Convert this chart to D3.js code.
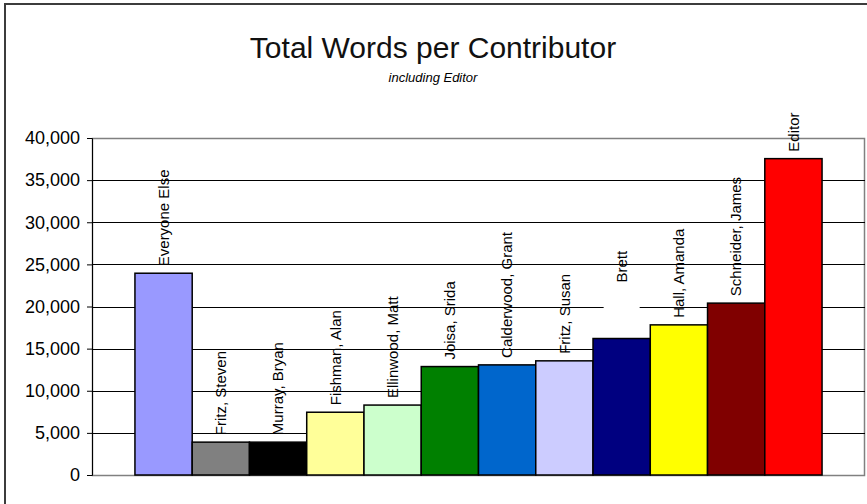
<!DOCTYPE html>
<html>
<head>
<meta charset="utf-8">
<script src="https://cdn.jsdelivr.net/npm/d3@7"></script>
<style>
  body { margin: 0; background: #fff; }
</style>
</head>
<body>
<div id="chart-area"></div>
<script>
// contributors, left to right
var contributors = ["Everyone Else", "Fritz, Steven", "Murray, Bryan", "Fishman, Alan",
                    "Ellinwood, Matt", "Joisa, Srida", "Calderwood, Grant", "Fritz, Susan",
                    "Brett", "Hall, Amanda", "Schneider, James", "Editor"];
var words = [23950, 3900, 3900, 7450, 8300, 12870, 13070, 13550, 16200, 17820, 20400, 37550];
var barColors = ["#9999ff", "#808080", "#000000", "#ffff99", "#ccffcc", "#008000",
                 "#0066cc", "#ccccff", "#000080", "#ffff00", "#800000", "#ff0000"];
var yTicks = [0, 5000, 10000, 15000, 20000, 25000, 30000, 35000, 40000];

var svgWidth  = 867;
var svgHeight = 504;
var margin = { top: 138, left: 92, bottom: 29, right: 2 };
var width  = svgWidth - margin.left - margin.right;
var height = svgHeight - margin.top - margin.bottom;

var svg = d3.select("#chart-area")
            .append("svg")
            .attr("width", svgWidth)
            .attr("height", svgHeight);

// outer frame (left and top edges only show)
svg.append("path")
   .attr("d", "M5," + svgHeight + "V4H" + svgWidth)
   .attr("fill", "none")
   .attr("stroke", "#3c3c3c")
   .attr("stroke-width", 2);

svg.append("text")
   .attr("x", 433)
   .attr("y", 58)
   .attr("text-anchor", "middle")
   .attr("font-family", "Liberation Sans, Arial, sans-serif")
   .attr("font-size", "30px")
   .attr("fill", "#111")
   .text("Total Words per Contributor");

svg.append("text")
   .attr("x", 433)
   .attr("y", 82)
   .attr("text-anchor", "middle")
   .attr("font-family", "Liberation Sans, Arial, sans-serif")
   .attr("font-size", "13px")
   .attr("font-style", "italic")
   .text("including Editor");

var graphSpace = svg.append("g")
                    .attr("transform", "translate(" + margin.left + ", " + margin.top + ")");

var x = d3.scaleBand()
          .domain(contributors)
          .range([0, width])
          .paddingInner(0)
          .paddingOuter(0.75);

var y = d3.scaleLinear()
          .domain([0, 40000])
          .range([height, 0]);

// plot area border
graphSpace.append("rect")
          .attr("x", 0.5)
          .attr("y", 0.5)
          .attr("width", width - 1)
          .attr("height", height)
          .attr("fill", "none")
          .attr("stroke", "#808080")
          .attr("stroke-width", 1.5);

// gridlines
graphSpace.selectAll(".grid")
          .data(yTicks.filter((d) => d > 0 && d < 40000))
          .enter()
          .append("line")
          .attr("class", "grid")
          .attr("x1", 0)
          .attr("x2", width)
          .attr("y1", (d) => Math.round(y(d)) + 0.5)
          .attr("y2", (d) => Math.round(y(d)) + 0.5)
          .attr("stroke", "#000")
          .attr("stroke-width", 1);

// y axis
var yAxisCall = d3.axisLeft(y)
                  .tickValues(yTicks)
                  .tickSize(5)
                  .tickPadding(7)
                  .tickFormat(d3.format(","));

var yAxisGroup = graphSpace.append("g")
                           .attr("class", "y-axis")
                           .call(yAxisCall);

yAxisGroup.select(".domain").attr("stroke", "#000");
yAxisGroup.selectAll("text")
          .attr("font-family", "Liberation Sans, Arial, sans-serif")
          .attr("font-size", "18px")
          .attr("fill", "#000");

// bars
graphSpace.selectAll(".bar")
          .data(words)
          .enter()
          .append("rect")
          .attr("class", "bar")
          .attr("x", (d, i) => x(contributors[i]))
          .attr("y", (d) => y(d))
          .attr("width", x.bandwidth())
          .attr("height", (d) => height - y(d))
          .attr("fill", (d, i) => barColors[i])
          .attr("stroke", "#000")
          .attr("stroke-width", 1.5);

// white box behind the Brett label
var brettX = x("Brett") + x.bandwidth() / 2;
graphSpace.append("rect")
          .attr("x", brettX - 18)
          .attr("y", y(words[8]) - 50)
          .attr("width", 36)
          .attr("height", 26)
          .attr("fill", "#fff");

// data labels, rotated
graphSpace.selectAll(".label")
          .data(words)
          .enter()
          .append("text")
          .attr("class", "label")
          .attr("transform", (d, i) => {
              var lx = x(contributors[i]) + x.bandwidth() / 2;
              var ly = y(d) - 7;
              if (contributors[i] == "Brett") ly = y(d) - 56;
              return "translate(" + lx + "," + ly + ") rotate(-90)";
          })
          .attr("dy", "0.35em")
          .attr("font-family", "Liberation Sans, Arial, sans-serif")
          .attr("font-size", "15px")
          .attr("fill", "#000")
          .text((d, i) => contributors[i]);
</script>
</body>
</html>
